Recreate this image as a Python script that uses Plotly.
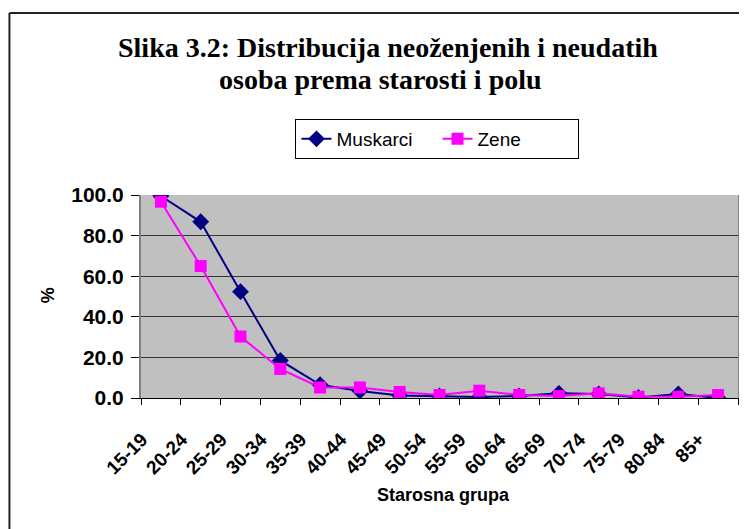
import plotly.graph_objects as go

categories = ["15-19", "20-24", "25-29", "30-34", "35-39", "40-44", "45-49", "50-54",
              "55-59", "60-64", "65-69", "70-74", "75-79", "80-84", "85+"]
muskarci = [99.5, 86.8, 52.4, 18.5, 6.5, 3.5, 1.2, 1.0, 0.5, 1.0, 2.3, 2.0, 0.3, 2.0, 0.0]
zene = [96.7, 65.0, 30.3, 14.3, 5.2, 5.2, 3.0, 1.5, 3.6, 1.5, 1.0, 2.3, 0.6, 0.6, 1.5]

# page body has an 8px margin; figure is laid out in screen coordinates
OFF = 8
W, H = 747 - OFF, 529 - OFF
PX0, PX1, PY0, PY1 = 141, 740, 195, 398  # plot area in screen pixels
L, R, T, B = PX0 - OFF, W - (PX1 - OFF), PY0 - OFF, H - (PY1 - OFF)
pw, ph = PX1 - PX0, PY1 - PY0

def px(x):
    return (x - PX0) / pw

def py(y):
    return (PY1 - y) / ph

fig = go.Figure()
fig.add_trace(go.Scatter(
    x=categories, y=muskarci, name="Muskarci", mode="lines+markers",
    line=dict(color="#000080", width=2),
    marker=dict(symbol="diamond", size=13, color="#000080"),
))
fig.add_trace(go.Scatter(
    x=categories, y=zene, name="Zene", mode="lines+markers",
    line=dict(color="#FF00FF", width=2),
    marker=dict(symbol="square", size=12, color="#FF00FF"),
))

fig.update_layout(
    width=W, height=H,
    margin=dict(l=L, r=R, t=T, b=B, pad=0),
    paper_bgcolor="white",
    plot_bgcolor="#C0C0C0",
    font=dict(family="Liberation Sans, Arial", color="black"),
    showlegend=True,
    legend=dict(
        orientation="h", x=px(296), y=py(119), xanchor="left", yanchor="top",
        bgcolor="white", bordercolor="black", borderwidth=1,
        font=dict(size=19, family="Liberation Sans, Arial"),
        itemwidth=30, entrywidth=96,
    ),
    xaxis=dict(
        type="category", range=[-0.5, 14.5],
        tickson="boundaries", ticks="outside", ticklen=6, tickcolor="black",
        showgrid=False, showline=True, linecolor="black", linewidth=1,
        tickangle=-45, ticklabelstandoff=22, ticklabelshift=-19,
        tickfont=dict(size=19, family="Liberation Sans, Arial", color="black", weight="bold"),
    ),
    yaxis=dict(
        range=[0, 100], dtick=20, tickformat=".1f",
        ticks="outside", ticklen=8, tickcolor="black", ticklabelstandoff=3,
        showgrid=True, gridcolor="#333333", gridwidth=1,
        showline=True, linecolor="#808080", linewidth=2, mirror=True,
        zeroline=False,
        tickfont=dict(size=21, family="Liberation Sans, Arial", color="black", weight="bold"),
    ),
    annotations=[
        dict(text="<b>Slika 3.2: Distribucija neoženjenih i neudatih</b>",
             xref="paper", yref="paper", x=px(389), y=py(47), xanchor="center", yanchor="middle",
             showarrow=False, font=dict(family="Liberation Serif, Times New Roman", size=28, color="black")),
        dict(text="<b>osoba prema starosti i polu</b>",
             xref="paper", yref="paper", x=px(381), y=py(80), xanchor="center", yanchor="middle",
             showarrow=False, font=dict(family="Liberation Serif, Times New Roman", size=28, color="black")),
        dict(text="<b>%</b>", xref="paper", yref="paper", x=px(48), y=py(295),
             xanchor="center", yanchor="middle", textangle=-90, showarrow=False,
             font=dict(size=18, family="Liberation Sans, Arial", color="black")),
        dict(text="<b>Starosna grupa</b>", xref="paper", yref="paper", x=px(445), y=py(495),
             xanchor="center", yanchor="middle", showarrow=False,
             font=dict(size=18, family="Liberation Sans, Arial", color="black")),
    ],
    shapes=[
        dict(type="line", xref="paper", yref="paper",
             x0=px(9), y0=py(13), x1=px(760), y1=py(13),
             line=dict(color="#222222", width=2), layer="above"),
        dict(type="line", xref="paper", yref="paper",
             x0=px(9), y0=py(13), x1=px(9), y1=py(560),
             line=dict(color="#222222", width=2), layer="above"),
    ],
)

fig.write_html("out.html")
